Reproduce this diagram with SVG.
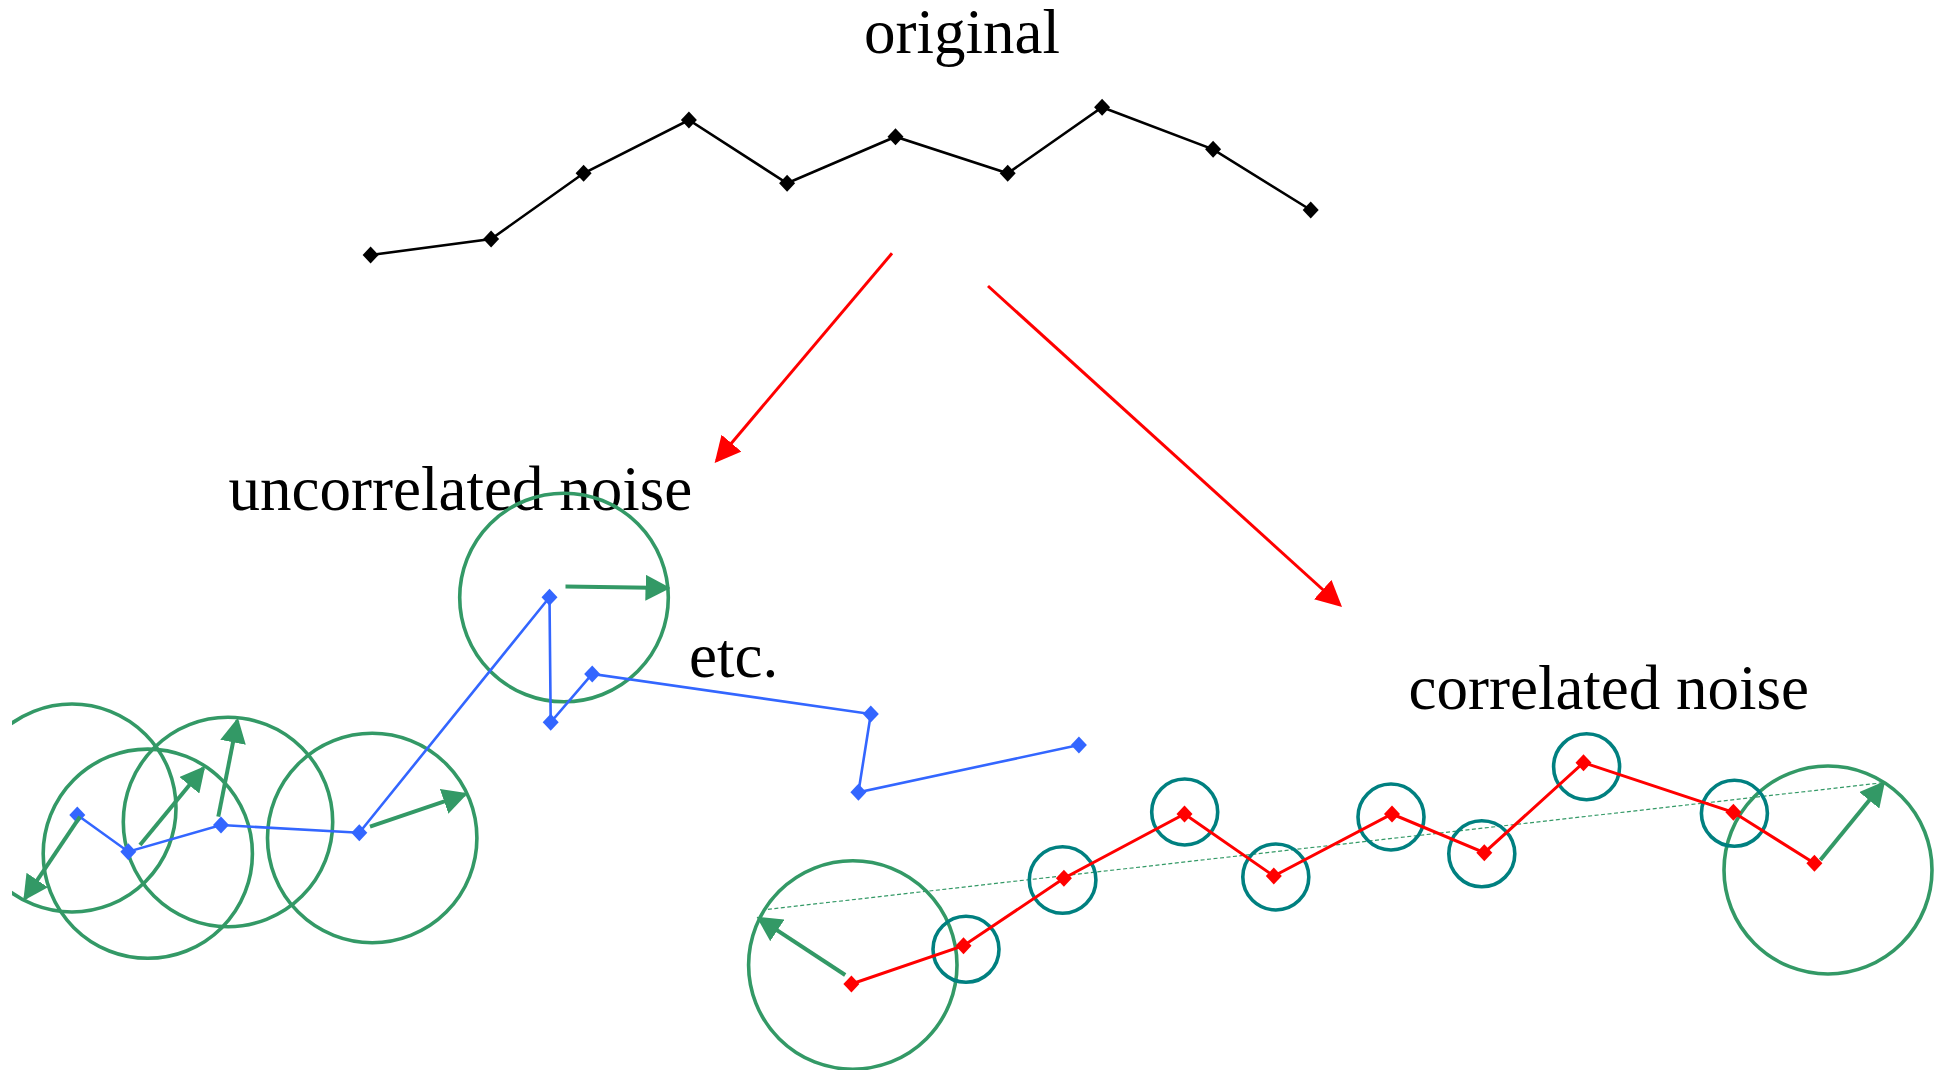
<svg xmlns="http://www.w3.org/2000/svg" xmlns:xlink="http://www.w3.org/1999/xlink" width="1935" height="1070" viewBox="0 0 1935 1070">
<style>
.lbl{font-family:"Liberation Serif","Times New Roman",serif;font-size:63px;fill:#000}
.blk{fill:none;stroke:#000;stroke-width:2.6;stroke-linejoin:miter}
.blu{fill:none;stroke:#3366ff;stroke-width:2.6}
.red{fill:none;stroke:#ff0000;stroke-width:3}
.gc{fill:none;stroke:#339966;stroke-width:3.6}
.tc{fill:none;stroke:#008080;stroke-width:3.6}
.ga{fill:none;stroke:#339966;stroke-width:4;marker-end:url(#mg)}
.ra{fill:none;stroke:#ff0000;stroke-width:3;marker-end:url(#mr)}
.dash{fill:none;stroke:#339966;stroke-width:1.2;stroke-dasharray:4 2.5}
</style>
<defs>
<path id="dm" d="M0,-8.5 L8,0 L0,8.5 L-8,0 Z"/>
<marker id="mg" markerUnits="userSpaceOnUse" markerWidth="25" markerHeight="26" refX="22" refY="13" orient="auto"><path d="M0,0 L25,13 L0,26 Z" fill="#339966"/></marker>
<marker id="mr" markerUnits="userSpaceOnUse" markerWidth="26" markerHeight="26" refX="23" refY="13" orient="auto"><path d="M0,0 L26,13 L0,26 Z" fill="#ff0000"/></marker>
<clipPath id="clipL"><rect x="12" y="0" width="1923" height="1070"/></clipPath>
</defs>

<g id="original">
<text class="lbl" x="864" y="53">original</text>
<polyline class="blk" points="370.6,255 491.1,239 583.6,173.3 688.9,120 787.1,183.3 895.5,136.7 1007.7,173.3 1102.1,107.3 1213.1,149.3 1310.7,210"/>
<g fill="#000">
<use xlink:href="#dm" x="370.6" y="255"/><use xlink:href="#dm" x="491.1" y="239"/><use xlink:href="#dm" x="583.6" y="173.3"/><use xlink:href="#dm" x="688.9" y="120"/><use xlink:href="#dm" x="787.1" y="183.3"/><use xlink:href="#dm" x="895.5" y="136.7"/><use xlink:href="#dm" x="1007.7" y="173.3"/><use xlink:href="#dm" x="1102.1" y="107.3"/><use xlink:href="#dm" x="1213.1" y="149.3"/><use xlink:href="#dm" x="1310.7" y="210"/>
</g>
</g>

<g id="connectors">
<line class="ra" x1="892" y1="253.3" x2="716.6" y2="460.7"/>
<line class="ra" x1="988" y1="286" x2="1339.8" y2="605"/>
</g>

<g id="uncorrelated">
<text class="lbl" x="228.6" y="510">uncorrelated noise</text>
<text class="lbl" x="689" y="677">etc.</text>
<circle class="gc" cx="72" cy="808" r="104" clip-path="url(#clipL)"/>
<circle class="gc" cx="147.8" cy="853.7" r="104.6"/>
<circle class="gc" cx="228" cy="822" r="104.7"/>
<circle class="gc" cx="372.2" cy="838" r="104.7"/>
<circle class="gc" cx="564" cy="597.5" r="104.3"/>
<polyline class="blu" points="77.3,815 128.3,851.7 221,825 359.3,832.7 549.5,597.3 550.7,722.3 592.2,674 870.8,714 858.4,792.3 1078.9,745"/>
<g fill="#3366ff">
<use xlink:href="#dm" x="77.3" y="815"/><use xlink:href="#dm" x="128.3" y="851.7"/><use xlink:href="#dm" x="221" y="825"/><use xlink:href="#dm" x="359.3" y="832.7"/><use xlink:href="#dm" x="549.5" y="597.3"/><use xlink:href="#dm" x="550.7" y="722.3"/><use xlink:href="#dm" x="592.2" y="674"/><use xlink:href="#dm" x="870.8" y="714"/><use xlink:href="#dm" x="858.4" y="792.3"/><use xlink:href="#dm" x="1078.9" y="745"/>
</g>
<line class="ga" x1="80" y1="816.7" x2="25" y2="898.3"/>
<line class="ga" x1="140" y1="845" x2="203.3" y2="768.3"/>
<line class="ga" x1="218.3" y1="816.7" x2="237.3" y2="720.7"/>
<line class="ga" x1="370" y1="826.7" x2="465" y2="794.3"/>
<line class="ga" x1="565.5" y1="586.5" x2="667.5" y2="588"/>
</g>

<g id="correlated">
<text class="lbl" x="1408.5" y="709">correlated noise</text>
<line class="dash" x1="767.9" y1="909.3" x2="1883.2" y2="782.7"/>
<circle class="gc" cx="852.8" cy="965" r="104.2"/>
<circle class="gc" cx="1828" cy="870" r="104"/>
<circle class="tc" cx="966" cy="949.3" r="33"/>
<circle class="tc" cx="1062.6" cy="880" r="33.3"/>
<circle class="tc" cx="1184.7" cy="812" r="33"/>
<circle class="tc" cx="1275.8" cy="877" r="33"/>
<circle class="tc" cx="1391" cy="817" r="33"/>
<circle class="tc" cx="1481.8" cy="853.8" r="33"/>
<circle class="tc" cx="1586.6" cy="766.7" r="33"/>
<circle class="tc" cx="1734.4" cy="813.3" r="33"/>
<polyline class="red" points="851.4,984 963.5,945.7 1063.9,878.3 1184.5,814 1273.8,876 1392,814 1484.3,852.7 1583.5,762.7 1733.4,812.3 1814.4,863.3"/>
<g fill="#ff0000">
<use xlink:href="#dm" x="851.4" y="984"/><use xlink:href="#dm" x="963.5" y="945.7"/><use xlink:href="#dm" x="1063.9" y="878.3"/><use xlink:href="#dm" x="1184.5" y="814"/><use xlink:href="#dm" x="1273.8" y="876"/><use xlink:href="#dm" x="1392" y="814"/><use xlink:href="#dm" x="1484.3" y="852.7"/><use xlink:href="#dm" x="1583.5" y="762.7"/><use xlink:href="#dm" x="1733.4" y="812.3"/><use xlink:href="#dm" x="1814.4" y="863.3"/>
</g>
<line class="ga" x1="845.2" y1="975" x2="759" y2="918.3"/>
<line class="ga" x1="1820.4" y1="860" x2="1883.2" y2="783.3"/>
</g>
</svg>
